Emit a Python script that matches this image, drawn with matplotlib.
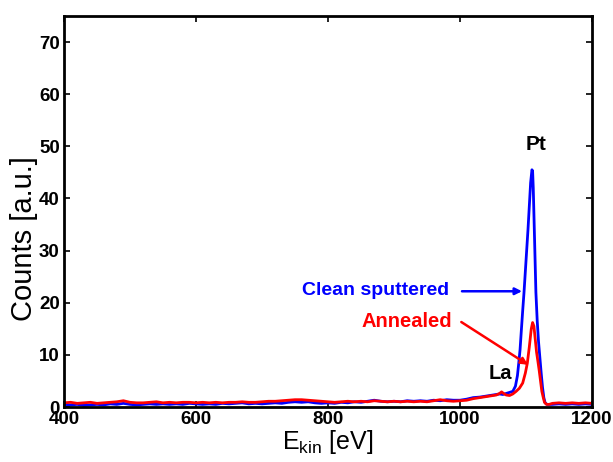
import matplotlib
matplotlib.use("Agg")
import matplotlib.pyplot as plt

plt.rcParams['font.family'] = ['Liberation Sans', 'DejaVu Sans']
plt.rcParams['mathtext.fontset'] = 'custom'
plt.rcParams['mathtext.rm'] = 'Liberation Sans'

# ---------------- data ----------------
energy_base = [400, 410, 420, 430, 440, 450, 460, 470, 480, 490,
               500, 510, 520, 530, 540, 550, 560, 570, 580, 590,
               600, 610, 620, 630, 640, 650, 660, 670, 680, 690,
               700, 710, 720, 730, 740, 750, 760, 770, 780, 790,
               800, 810, 820, 830, 840, 850, 860, 870, 880, 890,
               900, 910, 920, 930, 940, 950, 960, 970, 980, 990,
               1000, 1010, 1020, 1030, 1040, 1050]

clean_base = [0.5, 0.4, 0.5, 0.3, 0.4, 0.5, 0.4, 0.6, 0.5, 0.7,
              0.5, 0.4, 0.5, 0.6, 0.5, 0.6, 0.5, 0.6, 0.5, 0.7,
              0.6, 0.5, 0.6, 0.5, 0.7, 0.6, 0.7, 0.8, 0.6, 0.7,
              0.6, 0.7, 0.8, 0.7, 0.9, 1.0, 0.9, 1.0, 0.8, 0.7,
              0.8, 0.7, 0.9, 0.8, 1.0, 0.9, 1.1, 1.3, 1.1, 1.0,
              1.1, 1.0, 1.2, 1.1, 1.2, 1.1, 1.3, 1.2, 1.4, 1.3,
              1.3, 1.5, 1.8, 1.9, 2.1, 2.3]

annealed_base = [0.8, 0.9, 0.7, 0.8, 0.9, 0.7, 0.8, 0.9, 1.0, 1.2,
                 0.9, 0.8, 0.8, 0.9, 1.0, 0.8, 0.9, 0.8, 0.9, 0.9,
                 0.8, 0.9, 0.8, 0.9, 0.8, 0.9, 0.9, 1.0, 0.9, 0.9,
                 1.0, 1.1, 1.1, 1.2, 1.3, 1.4, 1.4, 1.3, 1.2, 1.1,
                 1.0, 0.9, 1.0, 1.1, 1.0, 1.1, 1.0, 1.2, 1.1, 1.0,
                 1.1, 1.0, 1.1, 1.0, 1.1, 1.0, 1.2, 1.4, 1.2, 1.1,
                 1.2, 1.3, 1.6, 1.8, 2.0, 2.2]

energy_clean_peak = [1055, 1060, 1065, 1070, 1075, 1080, 1084, 1087, 1089, 1091,
                     1093, 1095, 1097, 1099, 1101, 1103, 1105, 1107, 1109, 1110,
                     1111, 1112, 1113, 1114, 1115, 1117, 1119, 1121, 1123, 1125,
                     1127, 1129, 1132, 1140, 1150, 1160, 1170, 1180, 1190, 1200]
clean_peak = [2.4, 2.5, 2.4, 2.6, 2.8, 3.0, 4.0, 6.0, 8.4, 11.0,
              14.8, 18.5, 22.0, 26.0, 30.0, 34.0, 38.5, 43.0, 45.5, 45.3,
              42.0, 37.0, 32.0, 27.0, 22.0, 16.5, 12.5, 9.5, 6.5, 3.8,
              1.8, 0.8, 0.5, 0.5, 0.6, 0.5, 0.6, 0.5, 0.6, 0.5]

energy_annealed_peak = [1055, 1060, 1063, 1066, 1070, 1075, 1080, 1085, 1090, 1095,
                        1099, 1102, 1105, 1108, 1110, 1112, 1114, 1116, 1118, 1120,
                        1122, 1124, 1126, 1128, 1131, 1135, 1140, 1150, 1160, 1170,
                        1180, 1190, 1200]
annealed_peak = [2.3, 2.6, 2.9, 2.6, 2.3, 2.2, 2.5, 3.0, 3.6, 4.6,
                 6.5, 8.4, 11.5, 15.0, 16.2, 15.5, 13.0, 10.5, 8.8, 7.0,
                 5.0, 3.0, 1.9, 0.9, 0.5, 0.5, 0.7, 0.8, 0.7, 0.8,
                 0.7, 0.8, 0.7]

x_ticks = [400, 600, 800, 1000, 1200]
y_ticks = [0, 10, 20, 30, 40, 50, 60, 70]

# ---------------- figure ----------------
W, H = 613, 462
fig = plt.figure(figsize=(W / 100, H / 100), dpi=100)
ax = fig.add_axes([64 / W, (H - 407) / H, 528 / W, 391 / H])

ax.plot(energy_base + energy_clean_peak, clean_base + clean_peak,
        color='#0000ff', lw=2.0)
ax.plot(energy_base + energy_annealed_peak, annealed_base + annealed_peak,
        color='#ff0000', lw=2.0)

ax.set_xlim(400, 1200)
ax.set_ylim(0, 75)
ax.set_xticks(x_ticks)
ax.set_yticks(y_ticks)
ax.tick_params(direction='in', length=4, width=1.2, top=True, right=True,
               labelsize=13.5, pad=3)
for lab in ax.get_xticklabels() + ax.get_yticklabels():
    lab.set_fontweight('bold')
for s in ax.spines.values():
    s.set_linewidth(2.0)

ax.set_xlabel(r'E$_{\mathregular{kin}}$ [eV]', fontsize=18, labelpad=0)
ax.set_ylabel('Counts [a.u.]', fontsize=21)
ax.yaxis.set_label_coords(-0.05, 0.43)

ax.text(1116, 50.3, 'Pt', fontsize=15, fontweight='bold', ha='center', va='center')
ax.text(983, 22.3, 'Clean sputtered', fontsize=14, fontweight='bold',
        color='#0000ff', ha='right', va='center')
ax.annotate('', xy=(1094, 22.2), xytext=(1003, 22.2),
            arrowprops=dict(arrowstyle='-|>', color='#0000ff', lw=1.8,
                            mutation_scale=10, shrinkA=0, shrinkB=0))
ax.text(988, 16.4, 'Annealed', fontsize=14.5, fontweight='bold',
        color='#ff0000', ha='right', va='center')
ax.annotate('', xy=(1103, 8.1), xytext=(1002, 16.3),
            arrowprops=dict(arrowstyle='-|>', color='#ff0000', lw=1.8,
                            mutation_scale=10, shrinkA=0, shrinkB=0))
ax.text(1061, 6.5, 'La', fontsize=14.5, fontweight='bold', ha='center', va='center')

fig.savefig('out.png', dpi=100)
